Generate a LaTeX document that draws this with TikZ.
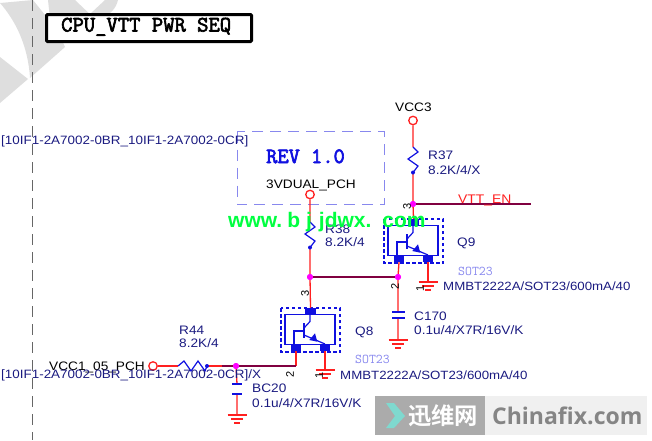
\documentclass[tikz,border=0pt]{standalone}
\usepackage{fontspec}
\setmainfont{Liberation Sans}
\newfontfamily\labf[FakeStretch=1.11]{Liberation Sans}
\newfontfamily\monof[BoldFont={Latin Modern Mono},BoldFeatures={FakeBold=3}]{Latin Modern Mono}
\newfontfamily\cjkf[BoldFont={Noto Sans CJK SC Bold}]{Noto Sans CJK SC}
\newfontfamily\openf{Open Sans}
\definecolor{navytxt}{HTML}{1A1A80}
\definecolor{wirered}{HTML}{FF2020}
\definecolor{darkwire}{HTML}{800040}
\definecolor{partblue}{HTML}{1010E0}
\definecolor{dotmag}{HTML}{FF00FF}
\definecolor{lav}{HTML}{8888EE}
\definecolor{wmgray}{HTML}{DEDEDE}
\definecolor{webgreen}{HTML}{00FF40}
\definecolor{wmteal}{HTML}{7FD9CF}
\tikzset{
  wire/.style={wirered,line width=1.3pt},
  netwire/.style={darkwire,line width=1.4pt},
  part/.style={partblue,line width=1.2pt},
  lbl/.style={inner sep=0pt,anchor=base west,text=navytxt,font=\labf\fontsize{12.3}{14}\selectfont},
  blk/.style={lbl,text=black},
  brk/.style={lbl,font=\labf\fontsize{12.1}{14}\selectfont},
  mpn/.style={lbl,font=\labf\fontsize{11.95}{14}\selectfont},
  pinn/.style={inner sep=0pt,rotate=90,text=black,font=\fontsize{11}{12}\selectfont},
  sot/.style={inner sep=0pt,anchor=base west,text=lav,font=\monof\fontsize{13.4}{14}\selectfont},
  port/.style={circle,draw=wirered,fill=white,line width=1.3pt,minimum size=8.5pt,inner sep=0pt},
  junc/.style={circle,fill=dotmag,minimum size=6pt,inner sep=0pt},
  pad/.style={rectangle,fill=partblue,inner sep=0pt},
  gndsym/.pic={
    \draw[wirered,line width=1.2pt] (-9.5,0) -- (9.5,0) (-6,4) -- (6,4) (-3,8) -- (3,8);
  },
  bjt/.pic={
    \draw[partblue,line width=1.2pt,dashed,dash pattern=on 3.5pt off 2.5pt] (0,0) rectangle (59,44);
    \draw[part] (4,6.5) rectangle (54,36.5);
    \node[pad,minimum width=11pt,minimum height=7pt] (-c) at (29.5,3.5) {};
    \node[pad,minimum width=10pt,minimum height=7pt] (-b) at (15,39.5) {};
    \node[pad,minimum width=10pt,minimum height=7pt] (-e) at (44,39.5) {};
    \draw[part] (23,15) -- (23,30);
    \draw[part] (13,36) -- (13,23) -- (23,23);
    \draw[part] (23,20) -- (29,13.5) -- (29,6.5);
    \draw[part] (23,27) -- (44,36);
    \fill[partblue] (34,25.3) -- (28.3,32) -- (36.3,33.7) -- cycle;
  },
}
\newcommand{\zigv}[2]{%
  \draw[part] (#1,#2) -- ++(5,5) -- ++(-10,7) -- ++(10,7) -- ++(-5,6.5);
  \fill[partblue] (#1,#2+25.5) circle (2pt);
}
\begin{document}
\begin{tikzpicture}[x=1pt,y=-1pt]
\useasboundingbox (0,0) rectangle (652,440);
% watermark, upper left
\fill[wmgray] (0,3) .. controls (15,20) and (28,45) .. (30,78) -- (65,47) .. controls (58,30) and (45,15) .. (33,0) -- cycle;
\fill[wmgray] (48,0) -- (75,0) -- (95,19) -- (50,19) -- cycle;
\fill[wmgray] (105,0) -- (118,0) .. controls (116,8) and (112,13) .. (100,20) -- (90,14) -- cycle;
\fill[wmgray] (0,57) -- (28,79) -- (0,103) -- cycle;
\draw[black!60,line width=0.9pt,dash pattern=on 11pt off 7pt] (32,0) -- (32,440);
% title
\node[draw=black,line width=3pt,rounded corners=1pt,minimum width=205pt,minimum height=27pt,inner sep=0pt,fill=white] (title) at (149,28) {};
\node[inner sep=0pt,anchor=base west,font=\monof\bfseries\fontsize{22}{24}\selectfont] (titletxt) at (61,31.5) {CPU\_VTT PWR SEQ};
% revision box
\draw[lav,line width=0.9pt,dash pattern=on 11pt off 7pt] (237,131.5) rectangle (384,204.5);
\node[inner sep=0pt,anchor=base west,text=partblue,font=\monof\bfseries\fontsize{21.8}{24}\selectfont] (rev) at (266,163) {REV 1.0};
\node[blk] (dual) at (266,188) {3VDUAL\_PCH};
% transistors
\pic (q9) at (384,219) {bjt};
\pic (q8) at (281,308) {bjt};
% supply ports and junctions
\node[port] (vcc3) at (413,120.5) {};
\node[blk] (vcc3t) at (395,111.5) {VCC3};
\node[port] (vdual) at (310,194.5) {};
\node[port] (vcc105) at (153,366) {};
\node[junc] (j1) at (413,204) {};
\node[junc] (j2) at (310,277) {};
\node[junc] (j3) at (398,277) {};
\node[junc] (j4) at (236,366) {};
\coordinate (ven) at (531,204);
\coordinate (r37a) at (413,147); \coordinate (r37b) at (413,172.5);
\coordinate (r38a) at (310,222); \coordinate (r38b) at (310,247.5);
\coordinate (r44a) at (178,366); \coordinate (r44b) at (207,366);
\coordinate (corner8) at (296,366);
\coordinate (g1) at (428,282);
\coordinate (g2) at (325,370);
\coordinate (g3) at (398,340);
\coordinate (g4) at (237,415);
\coordinate (c170a) at (398,312); \coordinate (c170b) at (398,318);
\coordinate (bc20a) at (237,384); \coordinate (bc20b) at (237,394);
\coordinate (r44w) at (222,366);
% wires
\draw[wire] (vcc3) -- (r37a) (r37b) -- (j1) -- (q9-c.north);
\draw[netwire] (j1) -- (ven);
\draw[wire] (vdual) -- (r38a) (r38b) -- (j2) -- (q8-c.north);
\draw[netwire] (j2) -- (j3);
\draw[wire] (q9-b.south) -- (j3) -- (c170a) (c170b) -- (g3);
\draw[wire] (q9-e.south) -- (g1);
\draw[wire] (q8-b.south) -- (corner8);
\draw[netwire] (corner8) -- (j4) -- (r44w);
\draw[wire] (r44w) -- (r44b) (r44a) -- (vcc105);
\draw[wire] (q8-e.south) -- (g2);
\draw[wire] (j4) -- (bc20a) (bc20b) -- (g4);
\node[junc] at (j1) {}; \node[junc] at (j2) {}; \node[junc] at (j3) {}; \node[junc] at (j4) {};
% resistors and capacitors
\zigv{413}{147}
\zigv{310}{222}
\draw[part] (r44a) -- ++(6,-5) -- ++(7,10) -- ++(7,-10) -- ++(7,10) -- (r44b);
\fill[partblue] (r44b) circle (2pt);
\draw[partblue,line width=1.8pt] (392,312) -- (405,312) (392,318) -- (405,318);
\draw[partblue,line width=2.8pt] (232,384) -- (242,384);
\draw[partblue,line width=1.2pt] (232,394) -- (242,394);
% grounds
\pic at (g1) {gndsym};
\pic at (g2) {gndsym};
\pic at (g3) {gndsym};
\pic at (g4) {gndsym};
% pin numbers
\node[pinn] (p1) at (407,206) {3};
\node[pinn] (p2) at (395,286) {2};
\node[pinn] (p3) at (305,293) {3};
\node[pinn] (p4) at (290,374) {2};
\node[pinn] (p5) at (420,288) {1};
\node[pinn] (p6) at (319,375) {1};
% labels
\node[inner sep=0pt,anchor=base west,text=wirered,font=\labf\fontsize{12.5}{14}\selectfont] (venlab) at (458,203) {VTT\_EN};
\node[lbl] (l37) at (428,159.5) {R37};
\node[lbl] (l37v) at (428,174.5) {8.2K/4/X};
\node[lbl] (l38) at (325,233.5) {R38};
\node[lbl] (l38v) at (325,246.5) {8.2K/4};
\node[lbl] (lq9) at (457,246.5) {Q9};
\node[sot] (s9) at (458,275) {SOT23};
\node[mpn] (m9) at (443,290.5) {MMBT2222A/SOT23/600mA/40};
\node[lbl] (lc) at (414,320.5) {C170};
\node[lbl] (lcv) at (414,334.5) {0.1u/4/X7R/16V/K};
\node[lbl] (lq8) at (355,335.5) {Q8};
\node[sot] (s8) at (355,363) {SOT23};
\node[mpn] (m8) at (340,379.5) {MMBT2222A/SOT23/600mA/40};
\node[lbl] (l44) at (179,334.5) {R44};
\node[lbl] (l44v) at (179,347.5) {8.2K/4};
\node[blk] (lvcc) at (49,370.5) {VCC1\_05\_PCH};
\node[brk] (b2) at (1,378.5) {[10IF1-2A7002-0BR\_10IF1-2A7002-0CR]/X};
\node[lbl] (lb) at (252,392.5) {BC20};
\node[lbl] (lbv) at (252,407.5) {0.1u/4/X7R/16V/K};
\node[brk] (b1) at (1,144.5) {[10IF1-2A7002-0BR\_10IF1-2A7002-0CR]};
% web overlay
\node[inner sep=0pt,anchor=base west,text=webgreen,font=\bfseries\fontsize{21}{22}\selectfont] (web) at (228,227) {www.\hspace{5pt}b\hspace{6pt}j\hspace{7pt}jdwx.\hspace{11pt}com};
% watermark, lower right
\fill[black!33] (375,396) rectangle (485,435);
\fill[black!6] (485,396) rectangle (647,435);
\fill[wmteal] (386,403) -- (394,403) -- (405,416) -- (394,428) -- (386,428) -- (395,416) -- cycle;
\node[inner sep=0pt,anchor=base west,text=white,font=\cjkf\bfseries\fontsize{23.3}{24}\selectfont] (wmcn) at (408,424) {迅维网};
\node[inner sep=0pt,anchor=base west,text=black!48,font=\openf\bfseries\fontsize{23}{26}\selectfont] (wmen) at (492,424.5) {Chinafix.com};
\end{tikzpicture}
\end{document}
